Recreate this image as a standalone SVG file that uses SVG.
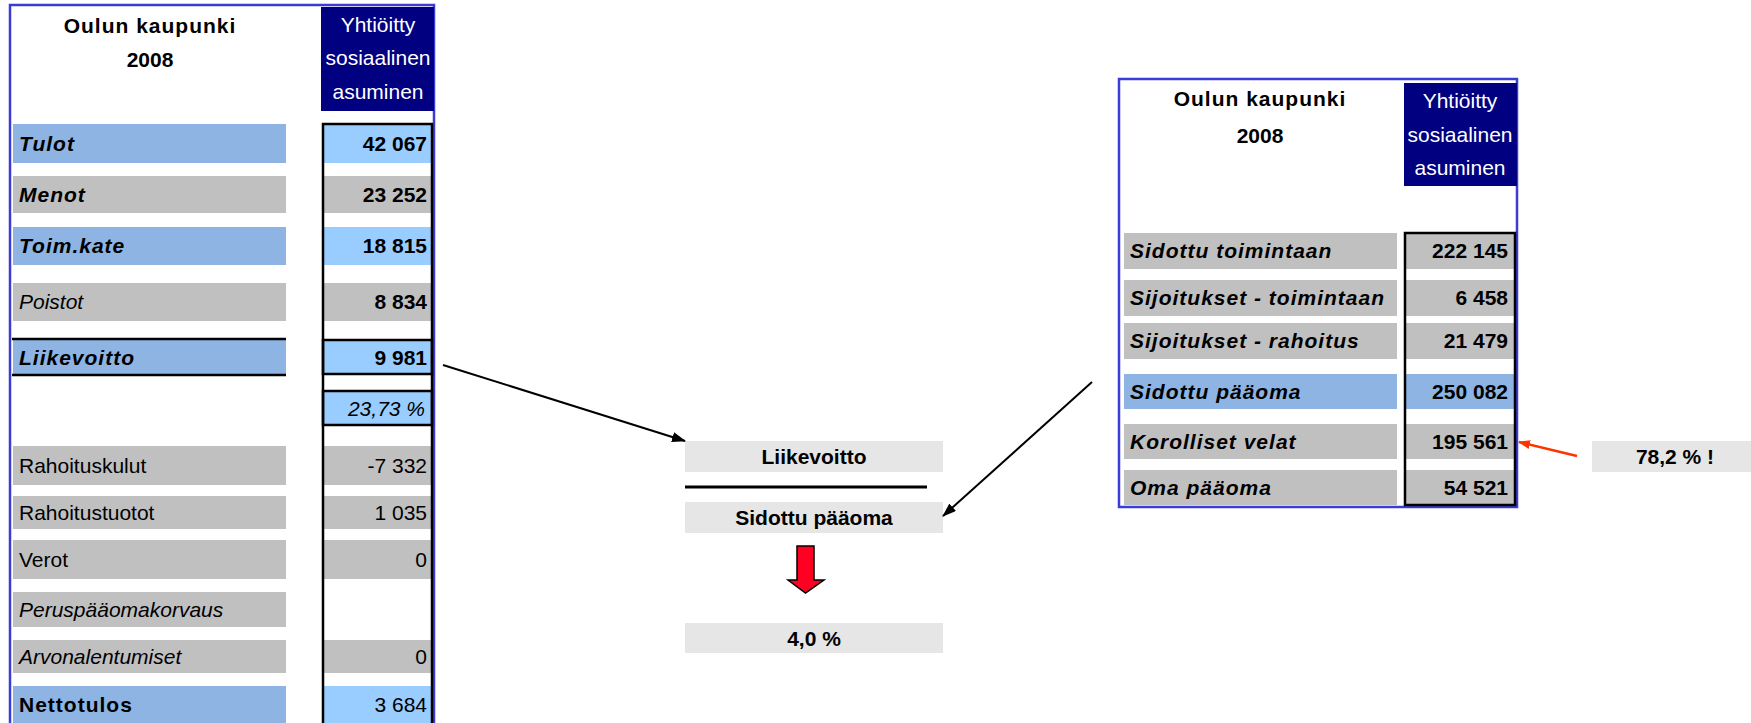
<svg xmlns="http://www.w3.org/2000/svg" width="1751" height="723" viewBox="0 0 1751 723">
<defs>
<style>
text{font-family:"Liberation Sans",Arial,sans-serif;font-size:21px;fill:#000}
.bi{font-weight:bold;font-style:italic;letter-spacing:1px}
.b{font-weight:bold}
.bs{font-weight:bold;letter-spacing:1px}
.i{font-style:italic}
.v{text-anchor:end}
.c{text-anchor:middle}
.h{fill:#fff;text-anchor:middle}
.blue{fill:#8DB4E2}
.lblue{fill:#99CCFF}
.gray{fill:#C0C0C0}
.lgray{fill:#E6E6E6}
.navy{fill:#000080}
.frame{fill:none;stroke:#3B3BD9;stroke-width:2.5}
.bk{fill:none;stroke:#000;stroke-width:2.5}
.conn{stroke:#000;stroke-width:2;fill:none}
</style>
<marker id="ah" markerUnits="userSpaceOnUse" markerWidth="14" markerHeight="10" refX="13" refY="5" orient="auto">
<path d="M0,0 L14,5 L0,10 z" fill="#000"/>
</marker>
<marker id="ahr" markerUnits="userSpaceOnUse" markerWidth="12" markerHeight="9" refX="11" refY="4.5" orient="auto">
<path d="M0,0 L12,4.5 L0,9 z" fill="#FF3300"/>
</marker>
</defs>
<rect width="1751" height="723" fill="#fff"/>

<g id="left-table">
<rect class="frame" x="10" y="5" width="424" height="730"/>
<text class="bs c" x="150" y="33">Oulun kaupunki</text>
<text class="b c" x="150" y="67">2008</text>
<rect class="navy" x="321" y="7" width="113" height="104"/>
<text class="h" x="378" y="32">Yhtiöitty</text>
<text class="h" x="378" y="65">sosiaalinen</text>
<text class="h" x="378" y="99">asuminen</text>

<g id="row-tulot"><rect class="blue" x="13" y="124" width="273" height="39"/><rect class="lblue" x="323" y="124" width="109" height="39"/><text class="bi" x="19" y="151">Tulot</text><text class="b v" x="427" y="151">42 067</text></g>
<g id="row-menot"><rect class="gray" x="13" y="176" width="273" height="37"/><rect class="gray" x="323" y="176" width="109" height="37"/><text class="bi" x="19" y="202">Menot</text><text class="b v" x="427" y="202">23 252</text></g>
<g id="row-toimkate"><rect class="blue" x="13" y="227" width="273" height="38"/><rect class="lblue" x="323" y="227" width="109" height="38"/><text class="bi" x="19" y="253">Toim.kate</text><text class="b v" x="427" y="253">18 815</text></g>
<g id="row-poistot"><rect class="gray" x="13" y="283" width="273" height="38"/><rect class="gray" x="323" y="283" width="109" height="38"/><text class="i" x="19" y="309">Poistot</text><text class="b v" x="427" y="309">8 834</text></g>
<g id="row-liikevoitto"><rect class="blue" x="13" y="340" width="273" height="34"/><rect class="lblue" x="323" y="340" width="109" height="34"/><line x1="12" y1="339" x2="286" y2="339" stroke="#000" stroke-width="2.5"/><line x1="12" y1="375" x2="286" y2="375" stroke="#000" stroke-width="2.5"/><rect class="bk" x="323" y="340" width="109" height="34"/><text class="bi" x="19" y="365">Liikevoitto</text><text class="b v" x="427" y="365">9 981</text></g>
<g id="row-pct"><rect class="lblue" x="323" y="391" width="109" height="34"/><rect class="bk" x="323" y="391" width="109" height="34"/><text class="i v" x="425" y="416">23,73 %</text></g>
<g id="row-rahoituskulut"><rect class="gray" x="13" y="446" width="273" height="39"/><rect class="gray" x="323" y="446" width="109" height="39"/><text x="19" y="473">Rahoituskulut</text><text class="v" x="427" y="473">-7 332</text></g>
<g id="row-rahoitustuotot"><rect class="gray" x="13" y="496" width="273" height="33"/><rect class="gray" x="323" y="496" width="109" height="33"/><text x="19" y="520">Rahoitustuotot</text><text class="v" x="427" y="520">1 035</text></g>
<g id="row-verot"><rect class="gray" x="13" y="540" width="273" height="39"/><rect class="gray" x="323" y="540" width="109" height="39"/><text x="19" y="567">Verot</text><text class="v" x="427" y="567">0</text></g>
<g id="row-peruspaaoma"><rect class="gray" x="13" y="592" width="273" height="35"/><text class="i" x="19" y="617">Peruspääomakorvaus</text></g>
<g id="row-arvonalentumiset"><rect class="gray" x="13" y="640" width="273" height="33"/><rect class="gray" x="323" y="640" width="109" height="33"/><text class="i" x="19" y="664">Arvonalentumiset</text><text class="v" x="427" y="664">0</text></g>
<g id="row-nettotulos"><rect class="blue" x="13" y="686" width="273" height="40"/><rect class="lblue" x="323" y="686" width="109" height="40"/><text class="bs" x="19" y="712">Nettotulos</text><text class="v" x="427" y="712">3 684</text></g>
<rect class="bk" x="323" y="124" width="109" height="610"/>
</g>

<g id="ratio">
<g id="box-liikevoitto"><rect class="lgray" x="685" y="441" width="258" height="31"/><text class="b c" x="814" y="464">Liikevoitto</text></g>
<line x1="685" y1="487" x2="927" y2="487" stroke="#000" stroke-width="3"/>
<g id="box-sidottu"><rect class="lgray" x="685" y="502" width="258" height="31"/><text class="b c" x="814" y="525">Sidottu pääoma</text></g>
<g id="down-arrow"><polygon points="797,546 814,546 814,580 824,580 805.5,593 788,580 797,580" fill="#FF0022" stroke="#000" stroke-width="1.5"/></g>
<g id="box-result"><rect class="lgray" x="685" y="623" width="258" height="30"/><text class="b c" x="814" y="646">4,0 %</text></g>
</g>

<g id="right-table">
<rect class="frame" x="1119" y="79" width="398" height="428"/>
<text class="bs c" x="1260" y="106">Oulun kaupunki</text>
<text class="b c" x="1260" y="143">2008</text>
<rect class="navy" x="1404" y="83" width="113" height="103"/>
<text class="h" x="1460" y="108">Yhtiöitty</text>
<text class="h" x="1460" y="142">sosiaalinen</text>
<text class="h" x="1460" y="175">asuminen</text>
<g id="r-sidottu-toim"><rect class="gray" x="1124" y="233" width="273" height="36"/><rect class="gray" x="1405" y="233" width="110" height="36"/><text class="bi" x="1130" y="258">Sidottu toimintaan</text><text class="b v" x="1508" y="258">222 145</text></g>
<g id="r-sij-toim"><rect class="gray" x="1124" y="280" width="273" height="36"/><rect class="gray" x="1405" y="280" width="110" height="36"/><text class="bi" x="1130" y="305">Sijoitukset - toimintaan</text><text class="b v" x="1508" y="305">6 458</text></g>
<g id="r-sij-rah"><rect class="gray" x="1124" y="323" width="273" height="36"/><rect class="gray" x="1405" y="323" width="110" height="36"/><text class="bi" x="1130" y="348">Sijoitukset - rahoitus</text><text class="b v" x="1508" y="348">21 479</text></g>
<g id="r-sidottu-paaoma"><rect class="blue" x="1124" y="374" width="273" height="35"/><rect class="blue" x="1405" y="374" width="110" height="35"/><text class="bi" x="1130" y="399">Sidottu pääoma</text><text class="b v" x="1508" y="399">250 082</text></g>
<g id="r-korolliset"><rect class="gray" x="1124" y="424" width="273" height="35"/><rect class="gray" x="1405" y="424" width="110" height="35"/><text class="bi" x="1130" y="449">Korolliset velat</text><text class="b v" x="1508" y="449">195 561</text></g>
<g id="r-oma"><rect class="gray" x="1124" y="470" width="273" height="35"/><rect class="gray" x="1405" y="470" width="110" height="35"/><text class="bi" x="1130" y="495">Oma pääoma</text><text class="b v" x="1508" y="495">54 521</text></g>
<rect class="bk" x="1405" y="233" width="110" height="272"/>
</g>

<g id="note"><rect class="lgray" x="1592" y="441" width="159" height="31"/><text class="b c" x="1675" y="464">78,2 % !</text></g>

<g id="connectors">
<line class="conn" x1="443" y1="365" x2="685" y2="441" marker-end="url(#ah)"/>
<line class="conn" x1="1092" y1="382" x2="943" y2="516" marker-end="url(#ah)"/>
<line x1="1577" y1="456" x2="1519" y2="442" stroke="#FF3300" stroke-width="2.5" marker-end="url(#ahr)"/>
</g>
</svg>
